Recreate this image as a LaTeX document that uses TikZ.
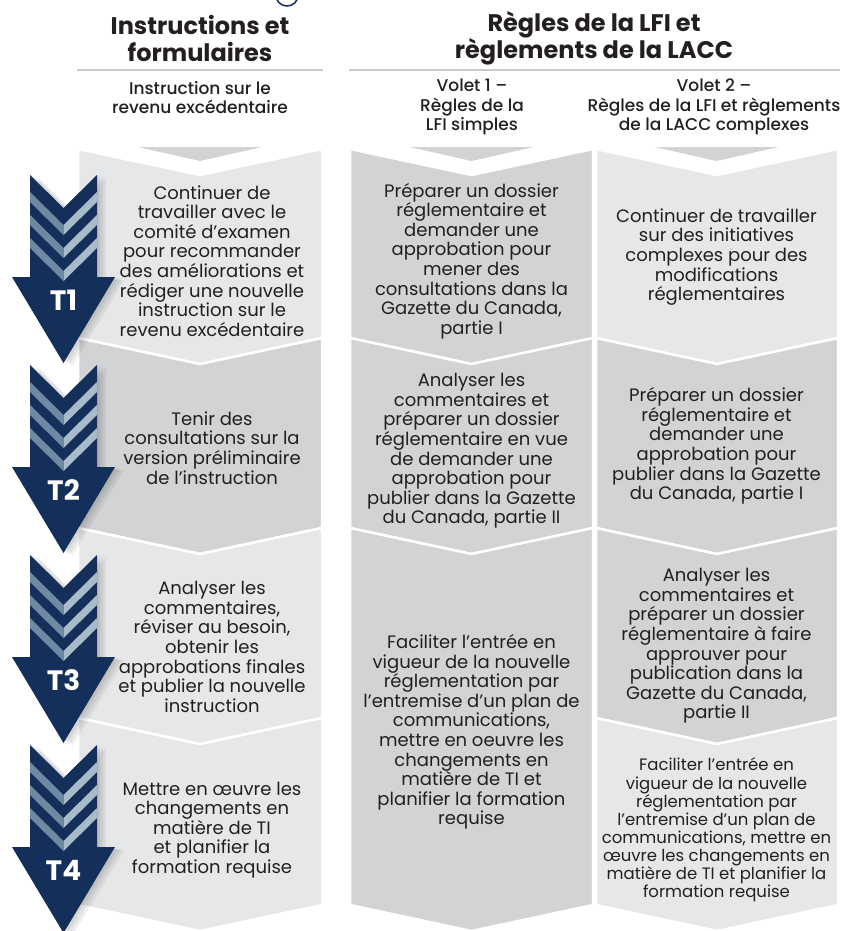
\documentclass[tikz,border=0pt]{standalone}
\usepackage{fontspec}
\setmainfont{Poppins}
\newfontfamily\medfont{Poppins}[UprightFont={* Medium}]
\usepackage{tikz}
\usetikzlibrary{positioning}
\definecolor{navy}{HTML}{14305A}
\definecolor{stripeL}{HTML}{7089A3}
\definecolor{stripeR}{HTML}{A8BBCB}
\definecolor{cellA}{HTML}{E6E7E8}
\definecolor{cellB}{HTML}{D1D3D4}
\definecolor{ink}{HTML}{231F20}
\definecolor{rulegray}{HTML}{C9CACB}

\begin{document}
\begin{tikzpicture}[
  x=1pt, y=-1pt,
  head/.style={align=center, text=ink, font=\bfseries\fontsize{24}{27}\selectfont},
  sub/.style={align=center, text=ink, font=\medfont\fontsize{17}{19.5}\selectfont},
  cell/.style={align=center, text=ink, font=\fontsize{18}{19.6}\selectfont},
  small/.style={align=center, text=ink, font=\fontsize{16.5}{18.1}\selectfont},
  tlabel/.style={text=white, font=\bfseries\fontsize{28}{30}\selectfont},
  rule/.style={draw=rulegray, line width=2pt},
  chev/.style={draw=white, line width=2.5pt, line join=miter}
]
  \useasboundingbox (0,0) rectangle (853,931);

  % bit of the emblem cut off at the top
  \begin{scope}
    \clip (0,0) rectangle (853,931);
    \draw[navy, line width=1.5pt] (287,-5.3) circle[radius=11.3];
  \end{scope}

  % Headers
  \node[head] (hInstr) at (200,38.5) {Instructions et\\formulaires};
  \node[head] (hRegles) at (594,38.5) {Règles de la LFI et\\règlements de la LACC};
  \draw[rule] (77,70) -- (323,70);
  \draw[rule] (349,70) -- (840,70);

  \node[sub] (sInstr) at (200,97.5) {Instruction sur le\\revenu excédentaire};
  \node[sub] (sVolet1) at (472,107) {Volet 1 –\\Règles de la\\LFI simples};
  \node[sub] (sVolet2) at (714,107) {Volet 2 –\\Règles de la LFI et règlements\\de la LACC complexes};

  % Column tops
  \foreach \c in {200,471.5,716.5}
    \fill[cellB] ({\c-62},147) -- ({\c+62},147) -- (\c,161) -- cycle;

  % Chevron cells: left/right/top/bottom/colour
  \foreach \xl/\xr/\yt/\yb/\col in {
      78/322/149/338/cellA, 78/322/338/528/cellB, 78/322/528/718/cellA, 78/322/718/905/cellA,
      350/593/149/338/cellB, 350/593/338/528/cellB, 350/593/528/905/cellB,
      596/838/149/338/cellA, 596/838/338/528/cellB, 596/838/528/718/cellB, 596/838/718/905/cellA}
    \filldraw[chev, fill=\col] (\xl,\yt) -- ({(\xl+\xr)/2},{\yt+26}) -- (\xr,\yt)
      -- (\xr,\yb) -- ({(\xl+\xr)/2},{\yb+26}) -- (\xl,\yb) -- cycle;

  % Time arrows
  \foreach \y/\t in {175/T1, 365/T2, 555/T3, 745/T4} {
    \foreach \s in {3,6,9}
      \fill[black, opacity=0.06, shift={(\s,{\s/3})}]
        (30,\y) -- (63.5,{\y+33}) -- (97,\y) -- (97,{\y+102}) -- (115,{\y+102})
        -- (63.5,{\y+188}) -- (12,{\y+102}) -- (30,{\y+102}) -- cycle;
    \fill[navy] (30,\y) -- (63.5,{\y+33}) -- (97,\y) -- (97,{\y+102}) -- (115,{\y+102})
      -- (63.5,{\y+188}) -- (12,{\y+102}) -- (30,{\y+102}) -- cycle;
    \foreach \o in {17,40,63} {
      \fill[stripeL] (30,{\y+\o}) -- (63.5,{\y+\o+33}) -- (63.5,{\y+\o+43}) -- (30,{\y+\o+10}) -- cycle;
      \fill[stripeR] (63.5,{\y+\o+33}) -- (97,{\y+\o}) -- (97,{\y+\o+10}) -- (63.5,{\y+\o+43}) -- cycle;
    }
    \node[tlabel] (\t) at (63.5,{\y+125}) {\t};
  }

  % Instructions et formulaires
  \node[cell] (instr1) at (212,261) {Continuer de\\travailler avec le\\comité d’examen\\pour recommander\\des améliorations et\\rédiger une nouvelle\\instruction sur le\\revenu excédentaire};
  \node[cell] (instr2) at (212,448) {Tenir des\\consultations sur la\\version préliminaire\\de l’instruction};
  \node[cell] (instr3) at (212,647) {Analyser les\\commentaires,\\réviser au besoin,\\obtenir les\\approbations finales\\et publier la nouvelle\\instruction};
  \node[cell] (instr4) at (212,830) {Mettre en œuvre les\\changements en\\matière de TI\\et planifier la\\formation requise};

  % Volet 1
  \node[cell] (vun1) at (471.5,261) {Préparer un dossier\\réglementaire et\\demander une\\approbation pour\\mener des\\consultations dans la\\Gazette du Canada,\\partie I};
  \node[cell] (vun2) at (471.5,451) {Analyser les\\commentaires et\\préparer un dossier\\réglementaire en vue\\de demander une\\approbation pour\\publier dans la Gazette\\du Canada, partie II};
  \node[cell] (vun3) at (471.5,732) {Faciliter l’entrée en\\vigueur de la nouvelle\\réglementation par\\l’entremise d’un plan de\\communications,\\mettre en oeuvre les\\changements en\\matière de TI et\\planifier la formation\\requise};

  % Volet 2
  \node[cell] (vdeux1) at (716.5,257) {Continuer de travailler\\sur des initiatives\\complexes pour des\\modifications\\réglementaires};
  \node[cell] (vdeux2) at (716.5,446) {Préparer un dossier\\réglementaire et\\demander une\\approbation pour\\publier dans la Gazette\\du Canada, partie I};
  \node[cell] (vdeux3) at (716.5,646) {Analyser les\\commentaires et\\préparer un dossier\\réglementaire à faire\\approuver pour\\publication dans la\\Gazette du Canada,\\partie II};
  \node[small] (vdeux4) at (716.5,830) {Faciliter l’entrée en\\vigueur de la nouvelle\\réglementation par\\l’entremise d’un plan de\\communications, mettre en\\œuvre les changements en\\matière de TI et planifier la\\formation requise};
\end{tikzpicture}
\end{document}
